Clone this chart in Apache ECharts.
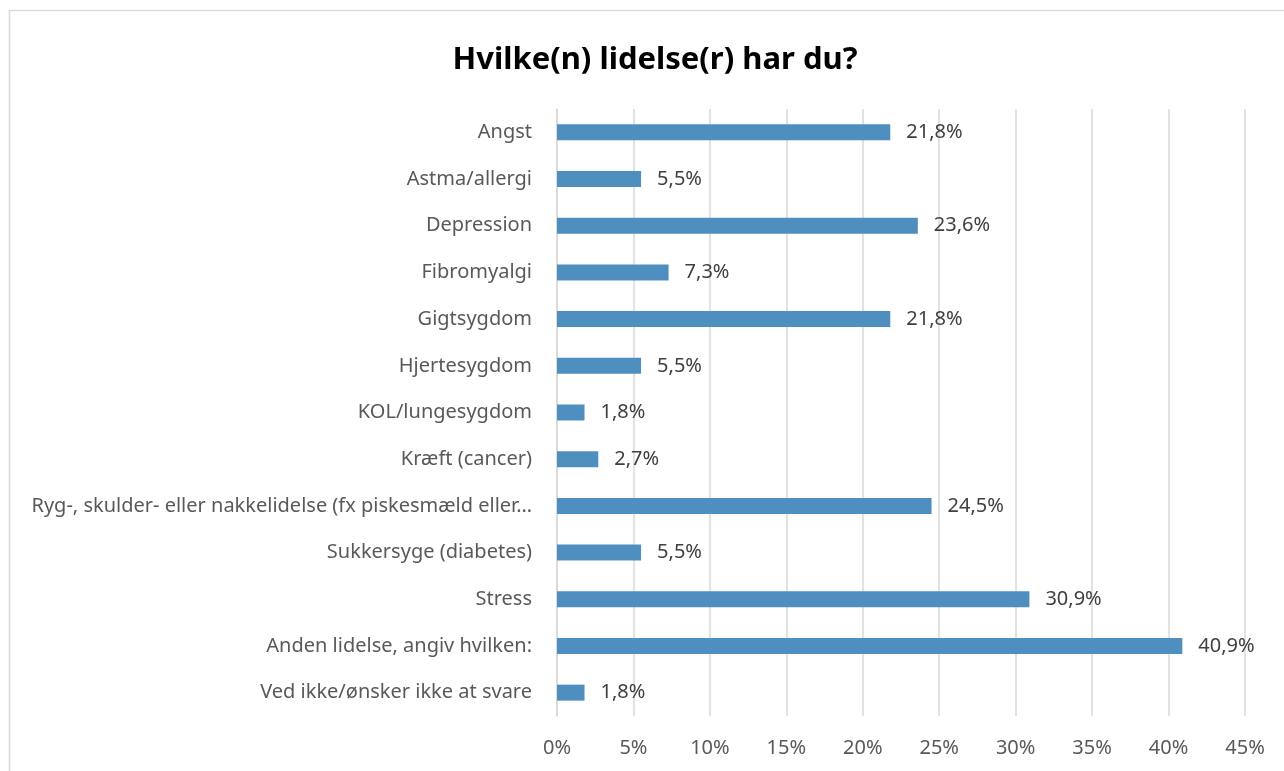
<!DOCTYPE html>
<html>
<head>
<meta charset="utf-8">
<script src="https://cdn.jsdelivr.net/npm/echarts@6/dist/echarts.min.js"></script>
<style>
  html, body { margin: 0; padding: 0; background: #fff; }
  #main { width: 1284px; height: 771px; }
</style>
</head>
<body>
<div id="main"></div>
<script>
// kategorier (oppefra og ned)
var categories = [
    'Angst',
    'Astma/allergi',
    'Depression',
    'Fibromyalgi',
    'Gigtsygdom',
    'Hjertesygdom',
    'KOL/lungesygdom',
    'Kræft (cancer)',
    'Ryg-, skulder- eller nakkelidelse (fx piskesmæld eller…',
    'Sukkersyge (diabetes)',
    'Stress',
    'Anden lidelse, angiv hvilken:',
    'Ved ikke/ønsker ikke at svare'
];
// procentværdier
var values = [21.8, 5.5, 23.6, 7.3, 21.8, 5.5, 1.8, 2.7, 24.5, 5.5, 30.9, 40.9, 1.8];

var myChart = echarts.init(document.getElementById('main'));

var font = 'Noto Sans';

var option = {
    backgroundColor: '#fff',
    animation: false,
    title: {
        text: 'Hvilke(n) lidelse(r) har du?',
        left: 650,
        top: 40,
        textAlign: 'center',
        textStyle: { fontFamily: font, fontSize: 31, fontWeight: 'bold', color: '#000' }
    },
    // tynd grå ramme rundt om diagrammet
    graphic: [{
        type: 'rect',
        shape: { x: 9.5, y: 10.5, width: 1400, height: 900 },
        style: { fill: 'none', stroke: '#d9d9d9', lineWidth: 1.5 },
        silent: true
    }],
    grid: { left: 557, right: 39, top: 109, bottom: 55 },
    xAxis: {
        type: 'value',
        min: 0,
        max: 45,
        interval: 5,
        axisLine: { show: false },
        axisTick: { show: false },
        axisLabel: {
            formatter: '{value}%',
            margin: 22,
            fontFamily: font,
            fontSize: 20,
            color: '#595959'
        },
        splitLine: { lineStyle: { color: '#d9d9d9', width: 1.5 } }
    },
    yAxis: {
        type: 'category',
        inverse: true,
        data: categories,
        axisLine: { show: true, lineStyle: { color: '#d9d9d9', width: 1.5 } },
        axisTick: { show: false },
        axisLabel: {
            margin: 25,
            fontFamily: font,
            fontSize: 20,
            color: '#595959'
        }
    },
    series: [{
        type: 'bar',
        data: values,
        barWidth: 16,
        itemStyle: { color: '#4f8fc0' },
        label: {
            show: true,
            position: 'right',
            distance: 16,
            formatter: function (p) { return p.value.toFixed(1).replace('.', ',') + '%'; },
            fontFamily: font,
            fontSize: 20,
            color: '#404040'
        }
    }]
};

myChart.setOption(option);
</script>
</body>
</html>
